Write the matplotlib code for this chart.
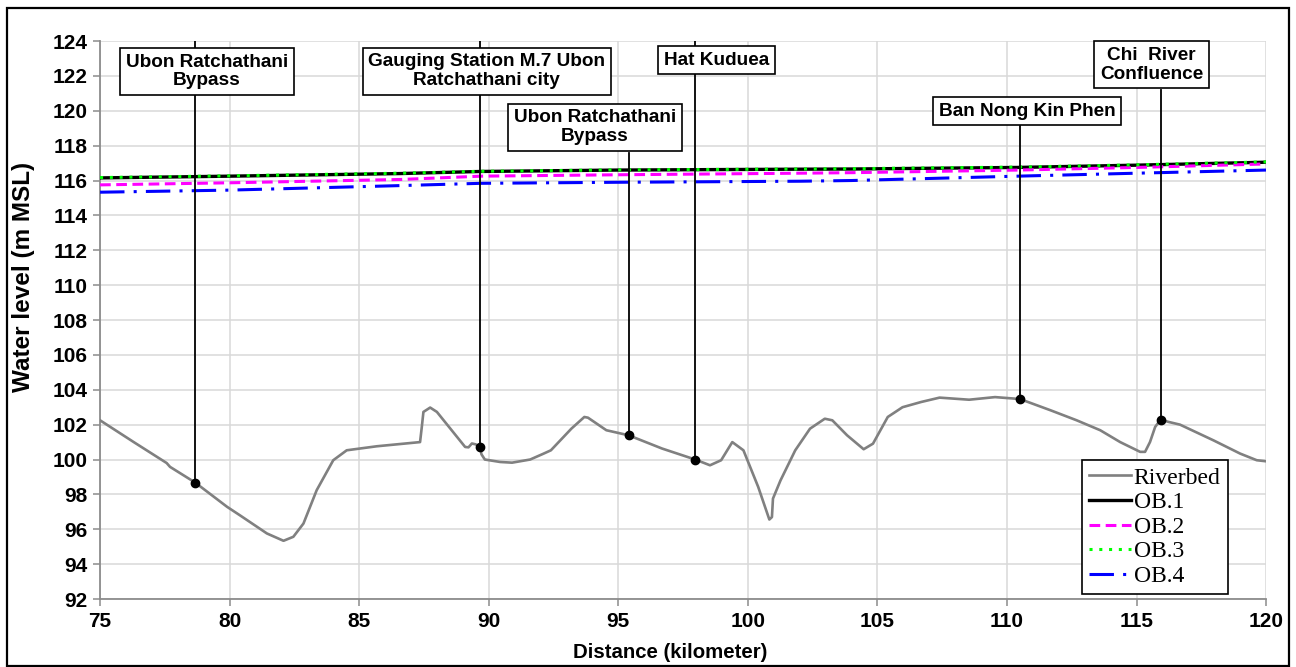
import numpy as np
import matplotlib
matplotlib.use("Agg")
import matplotlib.pyplot as plt
from matplotlib.patches import Rectangle

# riverbed profile (km, m MSL)
bed_km = [75.0, 76.3, 77.57, 77.7, 78.67, 79.9, 80.4, 81.44, 82.08, 82.46, 82.85, 83.36, 84.0,
          84.52, 85.68, 87.35, 87.42, 87.48, 87.74, 88.0, 89.09, 89.22, 89.35, 89.5, 89.67, 89.72,
          89.85, 90.44, 90.9, 91.6, 92.12, 92.4, 93.19, 93.69, 93.83, 94.54, 95.4, 96.69, 97.97,
          98.54, 98.97, 99.4, 99.83, 100.4, 100.83, 100.93, 100.97, 101.26, 101.83, 102.4, 102.97,
          103.26, 103.83, 104.47, 104.83, 105.4, 105.97, 106.69, 107.4, 108.54, 109.54, 110.5,
          111.69, 112.69, 113.6, 114.37, 115.14, 115.33, 115.52, 115.72, 115.93, 116.23, 116.68,
          117.97, 119.0, 119.64, 120.0]
bed_lvl = [102.25, 101.0, 99.8, 99.58, 98.68, 97.29, 96.8, 95.76, 95.34, 95.57, 96.33, 98.24, 99.96,
           100.53, 100.76, 101.0, 101.9, 102.73, 102.98, 102.73, 100.72, 100.7, 100.92, 100.87, 100.69,
           100.3, 100.0, 99.86, 99.82, 100.0, 100.34, 100.53, 101.77, 102.44, 102.4, 101.68, 101.39,
           100.63, 100.0, 99.67, 99.96, 101.0, 100.53, 98.43, 96.56, 96.7, 97.76, 98.8, 100.53,
           101.77, 102.34, 102.25, 101.39, 100.59, 100.91, 102.44, 103.0, 103.3, 103.55, 103.43,
           103.58, 103.47, 102.82, 102.25, 101.68, 101.0, 100.44, 100.44, 101.0, 101.87, 102.29,
           102.16, 102.0, 101.1, 100.34, 99.96, 99.9]

# water surface profiles
wl_km = [75, 80, 86.6, 89.7, 95, 102, 104, 110.4, 115, 120]
ob1 = [116.15, 116.25, 116.4, 116.52, 116.6, 116.65, 116.66, 116.75, 116.88, 117.05]
ob2 = [115.75, 115.87, 116.06, 116.25, 116.33, 116.42, 116.45, 116.6, 116.75, 116.95]
ob3 = [116.17, 116.27, 116.42, 116.53, 116.61, 116.66, 116.68, 116.77, 116.9, 117.07]
ob4 = [115.33, 115.45, 115.71, 115.84, 115.9, 115.96, 116.0, 116.25, 116.42, 116.6]

# stations
st_km = [78.67, 89.67, 95.4, 97.97, 110.5, 115.93]
st_names = ["Ubon Ratchathani\nBypass", "Gauging Station M.7 Ubon\nRatchathani city",
            "Ubon Ratchathani\nBypass", "Hat Kuduea", "Ban Nong Kin Phen", "Chi  River\nConfluence"]
# label box centres and where the leader line stops
box_xy = [(79.12, 122.25), (89.93, 122.27), (94.09, 119.06), (98.79, 122.9), (110.77, 119.98), (115.58, 122.64)]
line_top = [124, 124, 117.6, 124, 119.15, 121.2]

fig = plt.figure(figsize=(12.96, 6.67), dpi=100)
ax = fig.add_axes([0.0772, 0.1019, 0.8997, 0.8366])

ax.plot(bed_km, bed_lvl, color="#808080", lw=1.9, label="Riverbed", zorder=3)
ax.plot(wl_km, ob1, color="black", lw=2.4, label="OB.1", zorder=3)
ax.plot(wl_km, ob2, color="#ff00ff", lw=2.2, dashes=(3.5, 1.8), label="OB.2", zorder=3)
ax.plot(wl_km, ob3, color="#00ff00", lw=2.2, dashes=(1, 2.2), label="OB.3", zorder=3.5)
ax.plot(wl_km, ob4, color="#0000ff", lw=2.2, dashes=(8, 3, 1, 3), label="OB.4", zorder=3)

st_lvl = np.interp(st_km, bed_km, bed_lvl)
for k, lv, top in zip(st_km, st_lvl, line_top):
    ax.plot([k, k], [lv, top], color="black", lw=1.3, zorder=4)
ax.plot(st_km, st_lvl, "o", color="black", ms=6, zorder=5)

for name, (bx, by) in zip(st_names, box_xy):
    ax.text(bx, by, name, ha="center", va="center", fontsize=13.7, fontweight="bold",
            family="Liberation Sans", linespacing=1.12, zorder=6,
            bbox=dict(boxstyle="square,pad=0.3", fc="white", ec="black", lw=1.2))

ax.set_xlim(75, 120)
ax.set_ylim(92, 124)
ax.set_xticks(np.arange(75, 121, 5))
ax.set_yticks(np.arange(92, 125, 2))
ax.grid(True, color="#d9d9d9", lw=1.1)
ax.set_axisbelow(True)
for s in ["top", "right"]:
    ax.spines[s].set_visible(False)
for s in ["left", "bottom"]:
    ax.spines[s].set_color("#8c8c8c")
    ax.spines[s].set_linewidth(1.3)
ax.tick_params(colors="#8c8c8c", length=5, width=1.1, labelcolor="black", pad=4)
for lab in ax.get_xticklabels() + ax.get_yticklabels():
    lab.set_fontsize(15)
    lab.set_fontweight("bold")
    lab.set_family("Liberation Sans")

ax.set_xlabel("Distance (kilometer)", fontsize=14.7, fontweight="bold", family="Liberation Sans")
ax.set_ylabel("Water level (m MSL)", fontsize=17.5, fontweight="bold", family="Liberation Sans")
ax.xaxis.set_label_coords(0.489, -0.078)
ax.yaxis.set_label_coords(-0.056, 0.578)

leg = ax.legend(loc="upper left", bbox_to_anchor=(0.842, 0.249), borderaxespad=0,
                prop={"family": "Liberation Serif", "size": 17}, fancybox=False,
                edgecolor="black", framealpha=1, handlelength=1.8, handletextpad=0.1,
                labelspacing=0.13, borderpad=0.3)
leg.get_frame().set_linewidth(1.2)

fig.patches.append(Rectangle((0.0054, 0.0015), 0.989, 0.9865, transform=fig.transFigure,
                             fill=False, ec="black", lw=1.6))

fig.savefig("out.png", dpi=100)
